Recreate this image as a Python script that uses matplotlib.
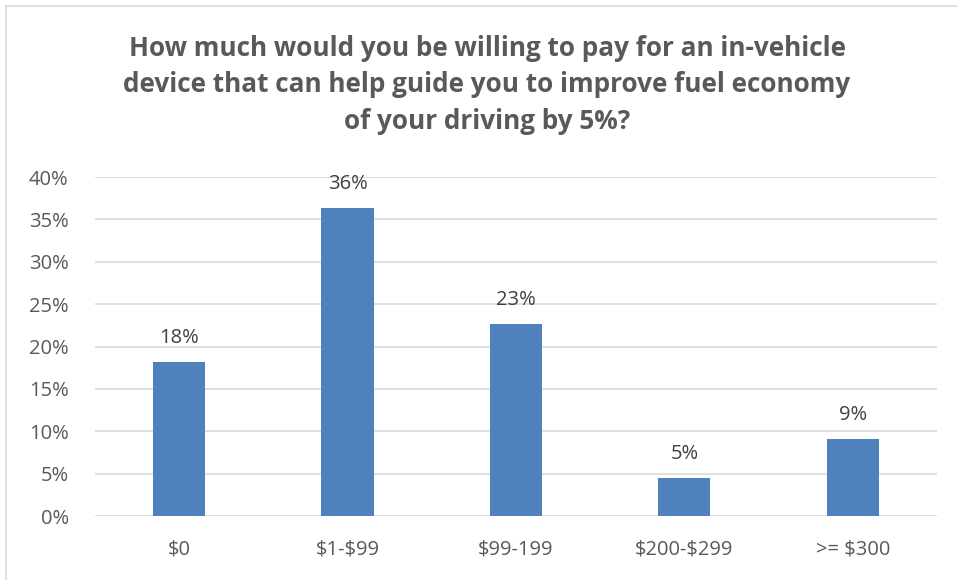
import matplotlib
matplotlib.use("Agg")
import matplotlib.pyplot as plt
from matplotlib.ticker import PercentFormatter

categories = [r"\$0", r"\$1-\$99", r"\$99-199", r"\$200-\$299", r">= \$300"]
shares = [0.182, 0.364, 0.227, 0.045, 0.091]
labels = ["18%", "36%", "23%", "5%", "9%"]
yticks = [0, 0.05, 0.10, 0.15, 0.20, 0.25, 0.30, 0.35, 0.40]

plt.rcParams["font.family"] = ["Open Sans", "DejaVu Sans"]
grey = "#595959"

fig = plt.figure(figsize=(9.57, 5.8), dpi=100)
ax = fig.add_axes([0.0993, 0.1103, 0.8797, 0.5845])

x = range(len(categories))
bars = ax.bar(x, shares, width=0.31, color="#4F81BD", zorder=3)
for b, lab in zip(bars, labels):
    ax.annotate(lab, (b.get_x() + b.get_width() / 2, b.get_height()),
                xytext=(0, 10), textcoords="offset points",
                ha="center", va="bottom", fontsize=14.5, color="#404040")

ax.set_xlim(-0.5, len(categories) - 0.5)
ax.set_ylim(0, 0.40)
ax.set_yticks(yticks)
ax.yaxis.set_major_formatter(PercentFormatter(1.0, decimals=0))
ax.set_xticks(list(x))
ax.set_xticklabels(categories)
ax.tick_params(length=0, labelsize=14.5, labelcolor=grey)
ax.tick_params(axis="x", pad=17)
ax.tick_params(axis="y", pad=19)
ax.grid(axis="y", color="#D9D9D9", lw=1.2, zorder=0)
for s in ax.spines.values():
    s.set_visible(False)

fig.text(0.509, 1 - 35 / 580,
         "How much would you be willing to pay for an in-vehicle\n"
         "device that can help guide you to improve fuel economy\n"
         "of your driving by 5%?",
         ha="center", va="top", fontsize=18.8, fontweight="bold",
         color=grey, linespacing=1.45)

# chart frame: only top and left edges show in the crop
fig.add_artist(plt.Line2D([6 / 957, 1], [1 - 6 / 580] * 2, color="#D9D9D9", lw=1.2))
fig.add_artist(plt.Line2D([6 / 957] * 2, [0, 1 - 6 / 580], color="#D9D9D9", lw=1.2))

fig.savefig("out.png", dpi=100)
